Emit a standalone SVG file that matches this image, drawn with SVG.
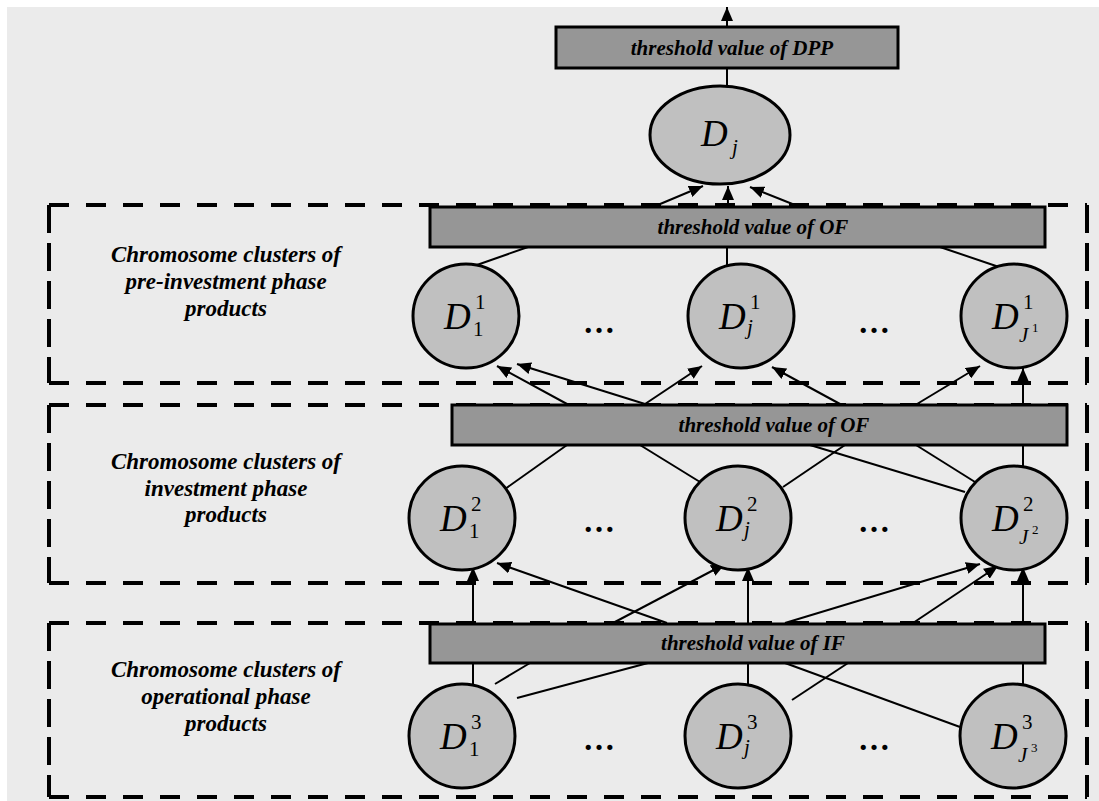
<svg xmlns="http://www.w3.org/2000/svg" width="1099" height="801" viewBox="0 0 1099 801">
<style>
.bg{fill:#ebebeb}
.fh{stroke:#000;stroke-width:4;stroke-dasharray:20 17;fill:none}
.fv{stroke:#000;stroke-width:4;stroke-dasharray:28 10;fill:none}
.box{fill:#969696;stroke:#000;stroke-width:3}
.node{fill:#c0c0c0;stroke:#000;stroke-width:3}
.c{stroke:#000;stroke-width:2;fill:none}
.a{marker-end:url(#ah)}
.bt{font-family:"Liberation Serif",serif;font-weight:bold;font-style:italic;font-size:21px;text-anchor:middle;fill:#000}
.lbl{font-family:"Liberation Serif",serif;font-weight:bold;font-style:italic;font-size:23px;text-anchor:middle;fill:#000}
.D{font-family:"Liberation Serif",serif;font-style:italic;font-size:37px;fill:#000}
.s{font-family:"Liberation Serif",serif;font-size:21px;fill:#000}
.si{font-family:"Liberation Serif",serif;font-style:italic;font-size:21px;fill:#000}
.t{font-family:"Liberation Serif",serif;font-size:13px;fill:#000}
.dots{font-family:"Liberation Serif",serif;font-weight:bold;font-size:32px;text-anchor:middle;fill:#000}
</style>
<defs>
<marker id="ah" markerUnits="userSpaceOnUse" markerWidth="14" markerHeight="12" refX="14" refY="6" orient="auto">
<path d="M0,0 L14,6 L0,12 z" fill="#000"/>
</marker>
</defs>
<rect class="bg" x="7" y="7" width="1092" height="794"/>

<g id="frames">
<path class="fh" d="M49,205 H1087 M49,383 H1087"/>
<path class="fv" d="M49,205 V383 M1087,205 V383"/>
<path class="fh" d="M49,405 H1087 M49,583 H1087"/>
<path class="fv" d="M49,405 V583 M1087,405 V583"/>
<path class="fh" d="M49,623 H1087 M49,797 H1087"/>
<path class="fv" d="M49,623 V797 M1087,623 V797"/>
</g>

<g id="connectors">
<line class="c a" x1="727" y1="27" x2="727" y2="7"/>
<line class="c" x1="727" y1="68" x2="727" y2="87"/>
<line class="c a" x1="653" y1="207" x2="703" y2="186"/>
<line class="c a" x1="728" y1="207" x2="728" y2="186"/>
<line class="c a" x1="800" y1="207" x2="750" y2="187"/>

<line class="c" x1="528" y1="247" x2="474" y2="266"/>
<line class="c" x1="727" y1="247" x2="727" y2="265"/>
<line class="c" x1="940" y1="247" x2="1002" y2="268"/>

<line class="c a" x1="567" y1="404" x2="497" y2="366"/>
<line class="c a" x1="645" y1="404" x2="517" y2="364"/>
<line class="c a" x1="645" y1="404" x2="702" y2="366"/>
<line class="c a" x1="840" y1="404" x2="772" y2="367"/>
<line class="c a" x1="917" y1="404" x2="980" y2="366"/>
<line class="c a" x1="1023" y1="404" x2="1023" y2="368"/>

<line class="c" x1="567" y1="445" x2="505" y2="489"/>
<line class="c" x1="640" y1="445" x2="700" y2="482"/>
<line class="c" x1="845" y1="445" x2="783" y2="487"/>
<line class="c" x1="810" y1="445" x2="965" y2="492"/>
<line class="c" x1="916" y1="445" x2="975" y2="482"/>
<line class="c" x1="1023" y1="445" x2="1023" y2="468"/>

<line class="c a" x1="473" y1="623" x2="473" y2="567"/>
<line class="c a" x1="667" y1="623" x2="497" y2="563"/>
<line class="c a" x1="613" y1="623" x2="725" y2="564"/>
<line class="c a" x1="748" y1="623" x2="748" y2="567"/>
<line class="c a" x1="785" y1="623" x2="980" y2="564"/>
<line class="c a" x1="913" y1="623" x2="998" y2="566"/>
<line class="c a" x1="1023" y1="623" x2="1023" y2="567"/>

<line class="c" x1="473" y1="663" x2="473" y2="686"/>
<line class="c" x1="530" y1="663" x2="495" y2="684"/>
<line class="c" x1="648" y1="663" x2="517" y2="698"/>
<line class="c" x1="748" y1="663" x2="748" y2="686"/>
<line class="c" x1="848" y1="663" x2="792" y2="700"/>
<line class="c" x1="785" y1="663" x2="960" y2="727"/>
<line class="c" x1="1023" y1="663" x2="1023" y2="686"/>
</g>

<g id="box-dpp"><rect class="box" x="556" y="27" width="342" height="41"/><text class="bt" x="732" y="55">threshold value of DPP</text></g>
<g id="node-Dj"><ellipse class="node" cx="720" cy="135" rx="70" ry="49"/><text class="D" x="701" y="146">D</text><text class="si" x="732" y="154">j</text></g>

<g id="label-pre"><text class="lbl" x="226" y="262">Chromosome clusters of</text><text class="lbl" x="226" y="289">pre-investment phase</text><text class="lbl" x="226" y="316">products</text></g>
<g id="box-of1"><rect class="box" x="430" y="207" width="615" height="40"/><text class="bt" x="753" y="234">threshold value of OF</text></g>
<g id="node-D11"><ellipse class="node" cx="466" cy="316" rx="53" ry="52"/><text class="D" x="444" y="329">D</text><text class="s" x="475" y="309">1</text><text class="s" x="473" y="336">1</text></g>
<text class="dots" x="599" y="333">…</text>
<g id="node-Dj1"><ellipse class="node" cx="741" cy="316" rx="53" ry="52"/><text class="D" x="719" y="329">D</text><text class="s" x="750" y="309">1</text><text class="si" x="747" y="334">j</text></g>
<text class="dots" x="874" y="333">…</text>
<g id="node-DJ1"><ellipse class="node" cx="1014" cy="316" rx="53" ry="52"/><text class="D" x="992" y="329">D</text><text class="s" x="1023" y="309">1</text><text class="si" x="1019" y="342">J</text><text class="t" x="1032" y="332">1</text></g>

<g id="label-inv"><text class="lbl" x="226" y="469">Chromosome clusters of</text><text class="lbl" x="226" y="496">investment phase</text><text class="lbl" x="226" y="522">products</text></g>
<g id="box-of2"><rect class="box" x="452" y="405" width="615" height="40"/><text class="bt" x="774" y="432">threshold value of OF</text></g>
<g id="node-D12"><ellipse class="node" cx="462" cy="518" rx="53" ry="52"/><text class="D" x="440" y="531">D</text><text class="s" x="471" y="511">2</text><text class="s" x="469" y="538">1</text></g>
<text class="dots" x="599" y="532">…</text>
<g id="node-Dj2"><ellipse class="node" cx="738" cy="518" rx="53" ry="52"/><text class="D" x="716" y="531">D</text><text class="s" x="747" y="511">2</text><text class="si" x="744" y="536">j</text></g>
<text class="dots" x="874" y="532">…</text>
<g id="node-DJ2"><ellipse class="node" cx="1014" cy="518" rx="53" ry="52"/><text class="D" x="992" y="531">D</text><text class="s" x="1023" y="511">2</text><text class="si" x="1019" y="544">J</text><text class="t" x="1032" y="534">2</text></g>

<g id="label-op"><text class="lbl" x="226" y="677">Chromosome clusters of</text><text class="lbl" x="226" y="704">operational phase</text><text class="lbl" x="226" y="731">products</text></g>
<g id="box-if"><rect class="box" x="430" y="624" width="615" height="39"/><text class="bt" x="753" y="650">threshold value of IF</text></g>
<g id="node-D13"><ellipse class="node" cx="462" cy="736" rx="53" ry="52"/><text class="D" x="440" y="749">D</text><text class="s" x="471" y="729">3</text><text class="s" x="469" y="756">1</text></g>
<text class="dots" x="599" y="750">…</text>
<g id="node-Dj3"><ellipse class="node" cx="738" cy="736" rx="53" ry="52"/><text class="D" x="716" y="749">D</text><text class="s" x="747" y="729">3</text><text class="si" x="744" y="754">j</text></g>
<text class="dots" x="874" y="750">…</text>
<g id="node-DJ3"><ellipse class="node" cx="1013" cy="736" rx="53" ry="52"/><text class="D" x="991" y="749">D</text><text class="s" x="1022" y="729">3</text><text class="si" x="1018" y="762">J</text><text class="t" x="1031" y="752">3</text></g>
</svg>
